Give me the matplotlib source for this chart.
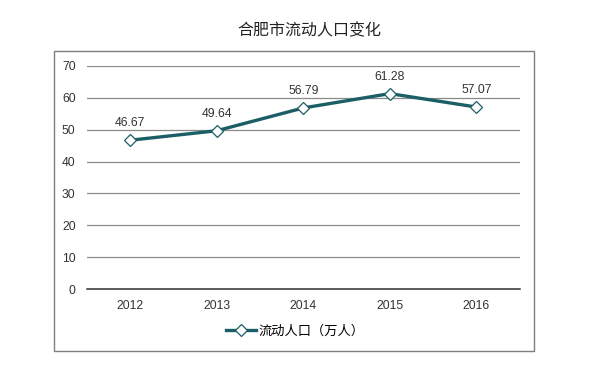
import matplotlib.pyplot as plt
from matplotlib.patches import Rectangle

plt.rcParams['font.family'] = ['Liberation Sans', 'Noto Sans CJK SC', 'DejaVu Sans']

years = ["2012", "2013", "2014", "2015", "2016"]
population = [46.67, 49.64, 56.79, 61.28, 57.07]
yticks = [0, 10, 20, 30, 40, 50, 60, 70]

line_color = "#1b5e66"

fig = plt.figure(figsize=(5.9, 3.76), dpi=100)
ax = fig.add_axes([0.147, 0.231, 0.734, 0.594])

x = range(len(years))
ax.plot(x, population, color=line_color, lw=2.4, marker="D", markersize=6.5,
        markerfacecolor="white", markeredgecolor=line_color, markeredgewidth=0.9,
        label="流动人口（万人）", zorder=3)
for i, v in enumerate(population):
    ax.annotate(f"{v:.2f}", (i, v), xytext=(0, 8), textcoords="offset points",
                ha="center", va="bottom", fontsize=8.7, color="#333333")

ax.set_xlim(-0.5, len(years) - 0.5)
ax.set_ylim(0, 70)
ax.set_yticks(yticks)
ax.set_xticks(list(x))
ax.set_xticklabels(years)
ax.grid(axis="y", color="#8a8a8a", lw=0.9)
ax.set_axisbelow(True)
for s in ["top", "right", "left"]:
    ax.spines[s].set_visible(False)
ax.spines["bottom"].set_color("#333333")
ax.spines["bottom"].set_linewidth(1.1)
ax.tick_params(length=0, labelsize=8.7, colors="#333333", pad=8)

fig.suptitle("合肥市流动人口变化", x=0.525, y=0.938, fontsize=11.5, color="#222222")

leg = fig.legend(loc="center", bbox_to_anchor=(0.5, 0.118), frameon=False,
                 fontsize=9.5, handlelength=2.3, handletextpad=0.2)

fig.patches.append(Rectangle((54 / 590, 1 - 351 / 376), 480 / 590, 300 / 376,
                             transform=fig.transFigure, fill=False,
                             edgecolor="#7f7f7f", lw=1.0))

fig.savefig("out.png", dpi=100)
